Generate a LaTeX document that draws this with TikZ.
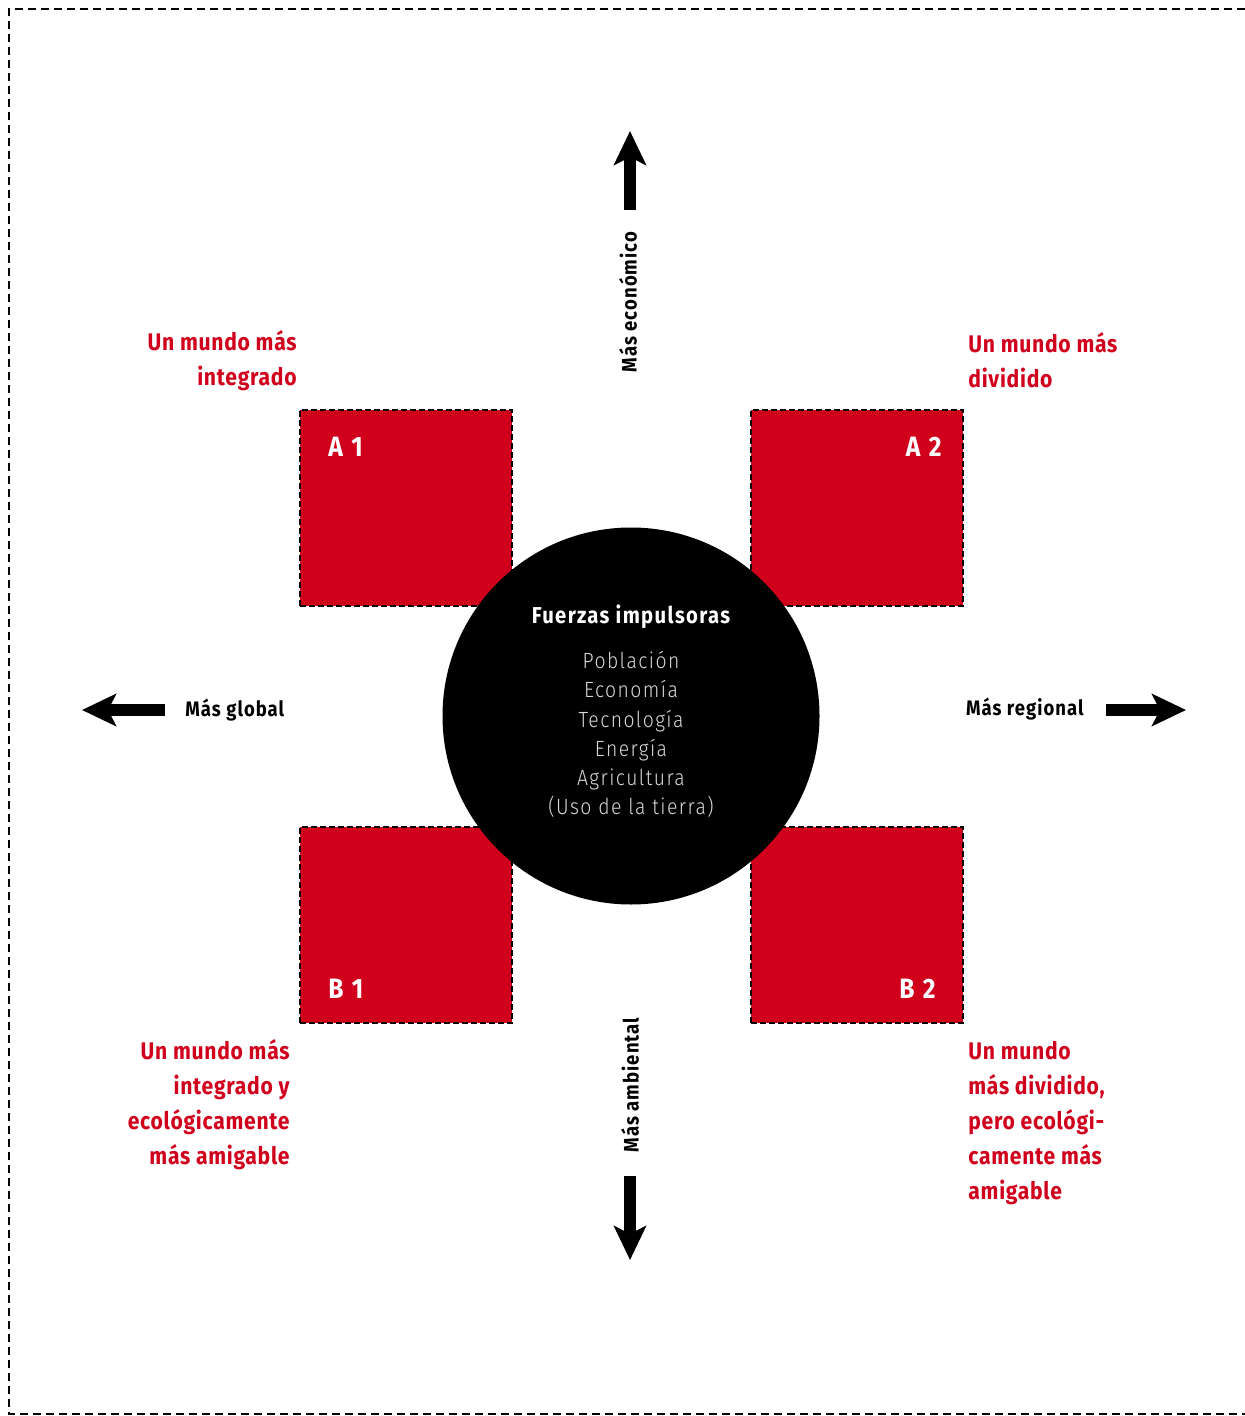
\documentclass[tikz,border=0pt]{standalone}
\usepackage{fontspec}
\setmainfont{Fira Sans}[FakeStretch=0.88]
\newfontfamily\redfont{Fira Sans}[FakeStretch=0.88, LetterSpace=3]
\newfontfamily\axisfont{Fira Sans}[FakeStretch=0.88, LetterSpace=5]
\newfontfamily\titlefont{Fira Sans}[FakeStretch=0.88, LetterSpace=6]
\newfontfamily\boxfont{Fira Sans}[FakeStretch=0.88, LetterSpace=9]
\newfontfamily\lightfont{Fira Sans Light}[FakeStretch=0.88, LetterSpace=6.5]
\usetikzlibrary{arrows.meta}
\definecolor{scred}{RGB}{208,0,28}
\tikzset{
  outerframe/.style={draw=black, line width=1.4pt, dash pattern=on 4pt off 2.5pt},
  scbox/.style={rectangle, fill=scred, draw=black, line width=1.2pt, dash pattern=on 3pt off 1.5pt, minimum width=106pt, minimum height=98pt, inner sep=0pt},
  boxlabel/.style={text=white, font=\boxfont\bfseries\fontsize{14}{16}\selectfont, inner sep=0pt},
  redtext/.style={text=scred, font=\redfont\bfseries\fontsize{12}{17.5}\selectfont, inner sep=0pt},
  axislabel/.style={text=black, font=\axisfont\bfseries\fontsize{10.5}{12}\selectfont, inner sep=0pt},
  bigarrow/.style={line width=6pt, -{Stealth[length=17pt,width=16pt,inset=4pt]}},
}
\begin{document}
\begin{tikzpicture}[x=0.5pt,y=-0.5pt]
\useasboundingbox (0,0) rectangle (1245,1416);
\draw[outerframe] (1245,9) -- (9,9) -- (9,1414) -- (1245,1414);

\node[scbox] (a1) at (406,508) {};
\node[scbox] (a2) at (857,508) {};
\node[scbox] (b1) at (406,925) {};
\node[scbox] (b2) at (857,925) {};

\node[boxlabel, anchor=base west] (a1l) at (328,457) {A 1};
\node[boxlabel, anchor=base east] (a2l) at (942,457) {A 2};
\node[boxlabel, anchor=base west] (b1l) at (328,998) {B 1};
\node[boxlabel, anchor=base east] (b2l) at (936,998) {B 2};

\node[circle, fill=black, minimum size=188.5pt, inner sep=0pt] (core) at (631,716) {};
\node[text=white, font=\titlefont\bfseries\fontsize{11.5}{13}\selectfont, inner sep=0pt, anchor=base] (title) at (631,623) {Fuerzas impulsoras};
\node[text=white!85!black, font=\lightfont\fontsize{11}{14.6}\selectfont, align=center, inner sep=0pt, anchor=north] (list) at (631,651) {Población\\Economía\\Tecnología\\Energía\\Agricultura\\(Uso de la tierra)};

\node[redtext, align=right, anchor=north east] (ta1) at (297,330) {Un mundo más\\integrado};
\node[redtext, align=left, anchor=north west] (ta2) at (968,332) {Un mundo más\\dividido};
\node[redtext, align=right, anchor=north east] (tb1) at (290,1039) {Un mundo más\\integrado y\\ecológicamente\\más amigable};
\node[redtext, align=left, anchor=north west] (tb2) at (968,1041) {Un mundo\\más dividido,\\pero ecológi-\\camente más\\amigable};

\node[axislabel, rotate=90] (econ) at (628,302) {Más económico};
\node[axislabel, rotate=90] (amb) at (630,1085) {Más ambiental};
\node[axislabel, anchor=west] (glob) at (185,710) {Más global};
\node[axislabel, anchor=east] (reg) at (1084,709) {Más regional};

\coordinate (upS) at (630,210);
\coordinate (upT) at (630,131);
\coordinate (dnS) at (630,1176);
\coordinate (dnT) at (630,1260);
\coordinate (lfS) at (165,710);
\coordinate (lfT) at (82,710);
\coordinate (rtS) at (1106,710);
\coordinate (rtT) at (1186,710);
\draw[bigarrow] (upS) -- (upT);
\draw[bigarrow] (dnS) -- (dnT);
\draw[bigarrow] (lfS) -- (lfT);
\draw[bigarrow] (rtS) -- (rtT);
\end{tikzpicture}
\end{document}
